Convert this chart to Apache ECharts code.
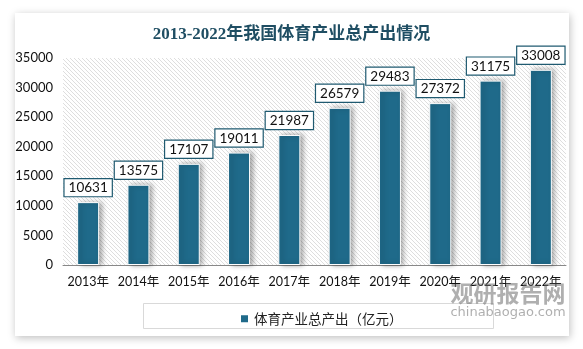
<!DOCTYPE html>
<html><head><meta charset="utf-8">
<script src="https://cdn.jsdelivr.net/npm/echarts@6/dist/echarts.min.js"></script>
<style>html,body{margin:0;padding:0;background:#fff;}#c{width:583px;height:349px;}</style>
</head><body><div id="c"></div>
<script>
var categories = ['2013年','2014年','2015年','2016年','2017年','2018年','2019年','2020年','2021年','2022年'];
var values = [10631, 13575, 17107, 19011, 21987, 26579, 29483, 27372, 31175, 33008];
var seriesName = '体育产业总产出（亿元）';
var titleText = '2013-2022年我国体育产业总产出情况';

// hatch pattern
var pc = document.createElement('canvas');
pc.width = 4; pc.height = 4;
var pctx = pc.getContext('2d');
var img = pctx.createImageData(4, 4);
for (var y = 0; y < 4; y++) for (var x = 0; x < 4; x++) {
  var i = (y * 4 + x) * 4;
  var on = ((x - y + 8) % 4) === 0;
  var v = on ? 222 : 255;
  img.data[i] = v; img.data[i+1] = v; img.data[i+2] = v; img.data[i+3] = 255;
}
pctx.putImageData(img, 0, 0);

var chart = echarts.init(document.getElementById('c'));
chart.setOption({
  backgroundColor: '#fff',
  animation: false,
  graphic: [
    {type: 'rect', shape: {x: 15, y: 13, width: 554, height: 323}, z: -10,
     style: {fill: '#fff', shadowColor: 'rgba(0,0,0,0.25)', shadowBlur: 8, shadowOffsetX: 1, shadowOffsetY: 2}},
    {type: 'rect', shape: {x: 143.5, y: 303.5, width: 350, height: 25}, z: 1,
     style: {fill: '#fff', stroke: '#d9d9d9', lineWidth: 1}},
    {type: 'text', x: 508, y: 293, z: 20,
     style: {text: '观研报告网', fill: 'rgba(110,110,110,0.55)', font: 'bold 23px "Noto Sans CJK SC"', textAlign: 'center', textVerticalAlign: 'middle'}},
    {type: 'text', x: 508, y: 313, z: 20,
     style: {text: 'chinabaogao.com', fill: 'rgba(110,110,110,0.55)', font: '13px "DejaVu Sans"', textAlign: 'center', textVerticalAlign: 'middle'}}
  ],
  title: {
    text: titleText, left: 'center', top: 21,
    textStyle: {fontFamily: '"Liberation Serif", "Noto Sans CJK SC"', fontWeight: 'bold', fontSize: 17, color: '#1f4e63'}
  },
  legend: {
    data: [seriesName], left: 234, top: 307, itemWidth: 9, itemHeight: 9, itemGap: 5,
    icon: 'rect',
    textStyle: {fontFamily: '"Noto Sans CJK SC"', fontSize: 13.5, color: '#222'}
  },
  grid: {left: 63, right: 17, top: 58, bottom: 84, show: true, borderWidth: 0,
    backgroundColor: {image: pc, repeat: 'repeat'}},
  xAxis: {
    type: 'category', data: categories,
    axisLine: {lineStyle: {color: '#888'}}, axisTick: {show: false},
    axisLabel: {color: '#111', fontSize: 12.5, margin: 11, interval: 0, fontFamily: 'Lato, "Noto Sans CJK SC"'}
  },
  yAxis: {
    type: 'value', min: 0, max: 35000, interval: 5000,
    axisLine: {show: false}, axisTick: {show: false}, splitLine: {show: false},
    axisLabel: {color: '#111', fontSize: 13, margin: 10, fontFamily: 'Lato', formatter: function (v) { return String(v); }}
  },
  series: [{
    name: seriesName, type: 'bar', data: values, barWidth: 22,
    itemStyle: {color: '#1f6a8a', borderColor: '#fff', borderWidth: 1,
      shadowColor: 'rgba(0,0,0,0.35)', shadowBlur: 5, shadowOffsetX: 3, shadowOffsetY: 0},
    label: {show: true, position: 'top', distance: 6, color: '#111', fontSize: 13.5,
      fontFamily: 'Lato', backgroundColor: '#fff', borderColor: '#1f5a70', borderWidth: 1.2,
      padding: [2, 4, 1, 4]}
  }]
});
</script></body></html>
